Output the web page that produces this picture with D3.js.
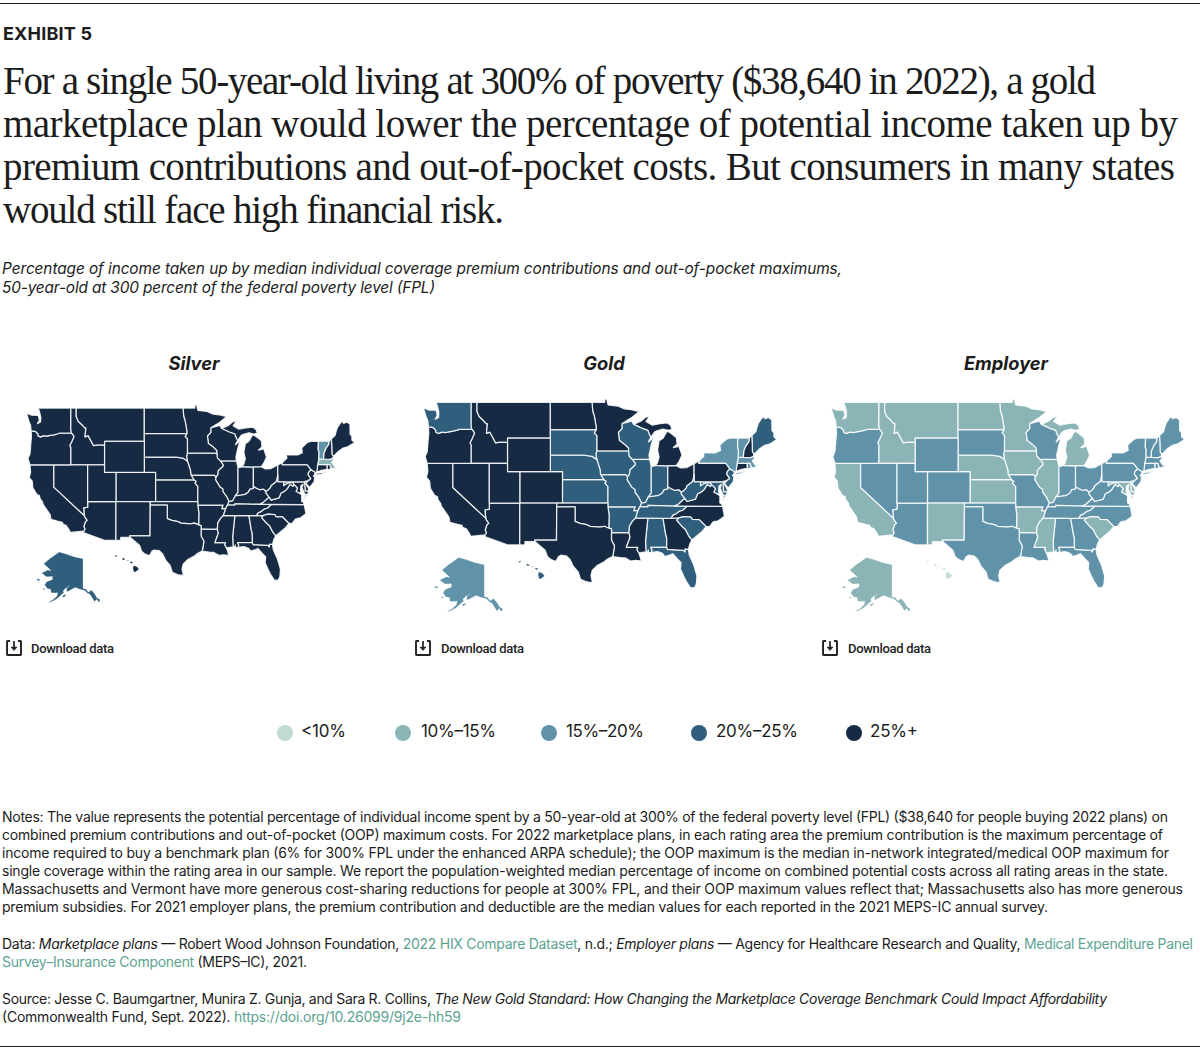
<!DOCTYPE html>
<html><head><meta charset="utf-8">
<style>html,body{margin:0;padding:0;background:#fff}svg{display:block}</style>
<script src="https://cdnjs.cloudflare.com/ajax/libs/d3/7.8.5/d3.min.js"></script>
</head><body><svg id="c" width="1200" height="1050"></svg>
<script>
// ---- Data ----
const binLabels = ["<10%","10%–15%","15%–20%","20%–25%","25%+"];
const binColors = ["#c1dcd3","#8bb4b6","#6093a9","#305f7e","#162b43"];
const panelNames = ["Silver","Gold","Employer"];
const stateCodes = ["AL","AK","AZ","AR","CA","CO","CT","DE","DC","FL","GA","HI","ID","IL","IN","IA","KS","KY","LA","ME","MD","MA","MI","MN","MS","MO","MT","NE","NV","NH","NJ","NM","NY","NC","ND","OH","OK","OR","PA","RI","SC","SD","TN","TX","UT","VT","VA","WA","WV","WI","WY"];
//                 AL AK AZ AR CA CO CT DE DC FL GA HI ID IL IN IA KS KY LA ME MD MA MI MN MS MO MT NE NV NH NJ NM NY NC ND OH OK OR PA RI SC SD TN TX UT VT VA WA WV WI WY
const silverBins = [4, 3, 4, 4, 4, 4, 4, 4, 4, 4, 4, 4, 4, 4, 4, 4, 4, 4, 4, 4, 4, 1, 4, 4, 4, 4, 4, 4, 4, 4, 4, 4, 4, 4, 4, 4, 4, 4, 4, 4, 4, 4, 4, 4, 4, 2, 4, 4, 4, 4, 4];
const goldBins   = [3, 2, 4, 3, 4, 4, 4, 3, 3, 3, 4, 3, 4, 3, 3, 3, 3, 3, 4, 3, 3, 2, 4, 4, 4, 3, 4, 3, 4, 4, 3, 4, 2, 4, 4, 4, 4, 4, 4, 2, 3, 3, 3, 4, 4, 2, 4, 3, 3, 3, 4];
const employerBins=[2, 1, 2, 1, 1, 2, 2, 1, 2, 2, 2, 0, 1, 1, 2, 1, 1, 2, 2, 2, 1, 2, 1, 1, 1, 2, 1, 1, 2, 2, 2, 1, 2, 2, 1, 2, 2, 2, 2, 2, 1, 2, 2, 2, 2, 2, 2, 1, 2, 2, 2];

// State outlines, lon,lat rings
const stateShapes = {
WA:["-122.76,49 -117.03,49 -117.04,46.42 -116.92,46 -118.98,46 -119.3,45.93 -120,45.8 -120.65,45.73 -121.2,45.65 -121.8,45.7 -122.3,45.55 -122.75,45.65 -122.8,45.9 -123.15,46.18 -123.5,46.26 -124,46.26 -124.07,46.7 -124.1,46.95 -124.4,47.45 -124.73,48.18 -124.73,48.38 -123.9,48.16 -123.1,48.15 -122.75,48.13 -122.55,47.6 -122.9,47.15 -122.35,47.35 -122.3,47.9 -122.5,48.5"],
OR:["-124,46.26 -123.5,46.26 -123.15,46.18 -122.8,45.9 -122.75,45.65 -122.3,45.55 -121.8,45.7 -121.2,45.65 -120.65,45.73 -120,45.8 -119.3,45.93 -118.98,46 -116.92,46 -116.7,45.85 -116.47,45.6 -116.53,45.47 -116.85,44.95 -117.2,44.44 -117.03,44.23 -117.03,42 -124.21,42 -124.55,42.84 -124.2,43.4 -124.07,44.6 -123.95,45.5"],
CA:["-124.21,42 -120,42 -120,39 -114.63,35 -114.57,34.8 -114.14,34.3 -114.43,34.1 -114.72,33.4 -114.52,33.03 -114.72,32.72 -117.12,32.53 -117.25,32.85 -117.8,33.55 -118.4,33.75 -118.5,34.03 -119.2,34.15 -120.5,34.45 -120.65,35.15 -121.9,36.6 -122,36.95 -122.5,37.5 -122.5,37.8 -123,38 -123.7,38.9 -123.8,39.8 -124.35,40.3 -124.1,41"],
NV:["-120,42 -114.04,42 -114.04,36.2 -114.75,36.1 -114.63,35 -120,39"],
ID:["-117.03,49 -116.05,49 -116.05,48 -115.7,47.45 -115,47 -114.55,46.65 -114.35,46.65 -114.5,45.55 -113.95,45.7 -113.45,45.05 -113,44.45 -112.3,44.55 -111.5,44.55 -111.05,44.48 -111.05,42 -117.03,42 -117.03,44.23 -117.2,44.44 -116.85,44.95 -116.53,45.47 -116.47,45.6 -116.7,45.85 -116.92,46 -117.04,46.42"],
MT:["-116.05,49 -104.05,49 -104.05,45.94 -104.05,45 -111.05,45 -111.05,44.48 -111.5,44.55 -112.3,44.55 -113,44.45 -113.45,45.05 -113.95,45.7 -114.5,45.55 -114.35,46.65 -114.55,46.65 -115,47 -115.7,47.45 -116.05,48"],
WY:["-111.05,45 -104.05,45 -104.05,43 -104.05,41 -111.05,41"],
UT:["-114.04,42 -111.05,42 -111.05,41 -109.05,41 -109.05,37 -114.04,37"],
CO:["-109.05,41 -104.05,41 -102.05,41 -102.05,40 -102.05,37 -103,37 -109.05,37"],
AZ:["-114.04,37 -109.05,37 -109.05,31.33 -111.07,31.33 -114.81,32.5 -114.72,32.72 -114.52,33.03 -114.72,33.4 -114.43,34.1 -114.14,34.3 -114.57,34.8 -114.63,35 -114.75,36.1 -114.04,36.2"],
NM:["-109.05,37 -103,37 -103,36.5 -103.04,32 -106.62,32 -106.53,31.78 -108.21,31.78 -108.21,31.33 -109.05,31.33"],
ND:["-104.05,49 -97.23,49 -97.1,48 -96.85,47.5 -96.55,46.3 -96.56,45.94 -104.05,45.94"],
SD:["-104.05,45.94 -96.56,45.94 -96.85,45.6 -96.45,45.3 -96.45,43.5 -96.6,43.1 -96.45,42.49 -97.2,42.85 -98.5,43 -104.05,43"],
NE:["-104.05,43 -98.5,43 -97.2,42.85 -96.45,42.49 -96.1,41.7 -95.9,41.2 -95.85,40.7 -95.77,40.58 -95.31,40 -102.05,40 -102.05,41 -104.05,41"],
KS:["-102.05,40 -95.31,40 -94.9,39.8 -95.1,39.55 -94.61,39.11 -94.62,37 -102.05,37"],
OK:["-103,37 -94.62,37 -94.62,36.5 -94.43,35.4 -94.48,33.64 -95.2,33.9 -96,33.8 -96.9,33.85 -97.6,33.9 -98.1,34.13 -99.2,34.3 -100,34.56 -100,36.5 -103,36.5"],
TX:["-103,36.5 -100,36.5 -100,34.56 -99.2,34.3 -98.1,34.13 -97.6,33.9 -96.9,33.85 -96,33.8 -95.2,33.9 -94.48,33.64 -94.04,33.55 -94.04,33.02 -94.04,31.99 -93.55,31.2 -93.7,30.3 -93.85,29.7 -94.7,29.35 -95.3,28.9 -96.4,28.4 -97.2,27.7 -97.4,26.9 -97.15,25.96 -97.7,25.95 -98.3,26.1 -99.1,26.4 -99.5,27.5 -100.3,28.3 -100.8,29.25 -101.4,29.77 -102.3,29.88 -102.7,29.7 -103.15,28.98 -104,29.3 -104.5,29.65 -104.9,30.6 -106.53,31.78 -106.62,32 -103.04,32"],
MN:["-97.23,49 -95.15,49 -95.15,49.38 -94.8,49.3 -94.6,48.72 -93,48.6 -92,48.3 -90.8,48.2 -89.5,48 -90.8,47.3 -92.1,46.75 -92.29,46.66 -92.29,46.1 -92.9,45.65 -92.75,45 -92.75,44.75 -91.9,44.3 -91.25,43.85 -91.22,43.5 -96.45,43.5 -96.45,45.3 -96.85,45.6 -96.56,45.94 -96.55,46.3 -96.85,47.5 -97.1,48"],
IA:["-96.45,43.5 -91.22,43.5 -91.15,42.9 -90.64,42.5 -90.15,42 -90.2,41.8 -91.05,41.2 -91.1,40.7 -91.42,40.38 -91.73,40.61 -95.77,40.58 -95.85,40.7 -95.9,41.2 -96.1,41.7 -96.45,42.49 -96.6,43.1"],
MO:["-95.77,40.58 -91.73,40.61 -91.42,40.38 -91.5,40 -90.7,39 -90.2,38.75 -90.2,38.4 -89.55,37.7 -89.13,37 -89.4,36.5 -89.7,36 -90.37,36 -90.15,36.5 -94.62,36.5 -94.62,37 -94.61,39.11 -95.1,39.55 -94.9,39.8 -95.31,40"],
AR:["-94.62,36.5 -90.15,36.5 -90.37,36 -89.7,36 -90.1,35 -90.6,34.6 -91.1,33.9 -91.17,33 -94.04,33.02 -94.04,33.55 -94.48,33.64 -94.43,35.4"],
LA:["-94.04,33.02 -91.17,33 -91,32.4 -91.6,31 -89.73,31 -89.85,30.65 -89.55,30.2 -89.4,29.8 -89.15,29.05 -90.1,29.15 -90.9,29.05 -91.8,29.5 -92.6,29.55 -93.85,29.7 -93.7,30.3 -93.55,31.2 -94.04,31.99"],
MS:["-90.1,35 -88.2,35 -88.1,34.9 -88.47,31.9 -88.4,30.35 -89.55,30.2 -89.85,30.65 -89.73,31 -91.6,31 -91,32.4 -91.17,33 -91.1,33.9 -90.6,34.6"],
TN:["-89.7,36 -89.4,36.5 -88.07,36.5 -88.07,36.68 -83.68,36.6 -81.68,36.59 -82.4,36.05 -82.9,35.95 -83.5,35.57 -84,35.4 -84.32,34.99 -85.6,34.98 -88.2,35 -90.1,35"],
KY:["-89.4,36.5 -88.07,36.5 -88.07,36.68 -83.68,36.6 -83.1,36.85 -82.2,37.5 -81.97,37.54 -82.6,38.17 -82.6,38.4 -83,38.72 -83.7,38.65 -84.23,38.85 -84.82,39.1 -84.82,38.8 -85.4,38.73 -85.75,38.27 -86.3,38 -87,37.9 -88,37.8 -88.45,37.1 -89.13,37"],
OH:["-84.82,41.7 -83.45,41.73 -82.7,41.45 -81.7,41.5 -80.52,41.98 -80.52,40.64 -80.65,40 -80.85,39.7 -81.7,39.2 -81.75,39 -82.2,38.6 -82.6,38.4 -83,38.72 -83.7,38.65 -84.23,38.85 -84.82,39.1"],
IN:["-87.53,41.7 -87.2,41.65 -86.8,41.76 -84.82,41.7 -84.82,39.1 -84.82,38.8 -85.4,38.73 -85.75,38.27 -86.3,38 -87,37.9 -88,37.8 -87.53,38.3 -87.53,39.35"],
IL:["-90.64,42.5 -87.8,42.5 -87.6,41.9 -87.53,41.7 -87.53,39.35 -87.53,38.3 -88,37.8 -88.45,37.1 -89.13,37 -89.55,37.7 -90.2,38.4 -90.2,38.75 -90.7,39 -91.5,40 -91.42,40.38 -91.1,40.7 -91.05,41.2 -90.2,41.8 -90.15,42"],
WI:["-92.29,46.66 -91.2,46.85 -90.75,46.95 -90.42,46.57 -89.1,46.15 -88.1,45.9 -87.8,45.35 -87.6,45.1 -88,44.55 -87.4,44.9 -87.05,45.25 -87.5,44.3 -87.9,43 -87.8,42.5 -90.64,42.5 -91.15,42.9 -91.22,43.5 -91.25,43.85 -91.9,44.3 -92.75,44.75 -92.75,45 -92.9,45.65 -92.29,46.1"],
MI:["-86.8,41.76 -86.5,42.1 -86.25,42.8 -86.5,43.6 -86.25,44.7 -85.6,45 -85,45.75 -84.75,45.78 -84,45.4 -83.4,45.05 -83.3,44.3 -83.9,43.9 -83,44.05 -82.5,43 -82.9,42.35 -83.15,42.05 -83.45,41.73 -84.82,41.7",
    "-90.42,46.57 -89.2,46.95 -88.4,47.4 -87.8,47.45 -88.4,46.9 -87.4,46.5 -86.1,46.65 -85,46.75 -84.4,46.5 -84.1,46 -84.75,45.9 -85.6,46.05 -86.6,45.85 -87,45.7 -87.6,45.1 -87.8,45.35 -88.1,45.9 -89.1,46.15"],
AL:["-88.2,35 -85.6,34.98 -85.18,32.87 -85,32.3 -85,31 -87.6,31 -87.4,30.65 -87.52,30.28 -88,30.25 -88,30.65 -88.1,30.35 -88.4,30.35 -88.47,31.9 -88.1,34.9"],
GA:["-85.6,34.98 -84.32,34.99 -83.1,35 -83.35,34.7 -82.55,33.95 -81.95,33.5 -81.4,32.6 -80.87,32.03 -81.2,31.5 -81.45,30.72 -81.98,30.78 -82.05,30.36 -82.2,30.57 -84.86,30.7 -85,31 -85,32.3 -85.18,32.87"],
FL:["-87.6,31 -85,31 -84.86,30.7 -82.2,30.57 -82.05,30.36 -81.98,30.78 -81.45,30.72 -81.3,29.9 -80.55,28.45 -80.05,26.9 -80.15,25.75 -80.4,25.2 -81.1,25.13 -81.8,26.1 -82.2,26.8 -82.75,27.9 -82.65,28.8 -83.4,29.5 -84,30.1 -84.4,29.95 -85.3,29.7 -85.7,30.15 -86.5,30.4 -87.52,30.28 -87.4,30.65"],
SC:["-83.1,35 -82.3,35.2 -81.05,35.15 -80.8,34.82 -79.67,34.8 -78.55,33.85 -79.2,33.2 -79.9,32.7 -80.87,32.03 -81.4,32.6 -81.95,33.5 -82.55,33.95 -83.35,34.7"],
NC:["-84.32,34.99 -83.1,35 -82.3,35.2 -81.05,35.15 -80.8,34.82 -79.67,34.8 -78.55,33.85 -77.95,33.9 -77.4,34.5 -76.55,34.65 -75.55,35.25 -75.85,36.55 -81.68,36.59 -82.4,36.05 -82.9,35.95 -83.5,35.57 -84,35.4"],
VA:["-75.85,36.55 -81.68,36.59 -83.68,36.6 -83.1,36.85 -82.2,37.5 -81.97,37.54 -81.68,37.2 -81.25,37.3 -80.3,37.5 -79.95,38.2 -79.3,38.45 -78.87,38.76 -78.35,39.4 -77.83,39.13 -77.72,39.32 -77.45,39.22 -77.05,38.85 -77.3,38.4 -76.95,38.27 -76.3,37.95 -76.3,37.5 -76.3,37 -76,36.9",
    "-75.95,37.15 -75.6,37.55 -75.25,38.03 -75.65,37.95"],
WV:["-81.97,37.54 -82.6,38.17 -82.6,38.4 -82.2,38.6 -81.75,39 -81.7,39.2 -80.85,39.7 -80.65,40 -80.52,40.64 -80.52,39.72 -79.48,39.72 -79.48,39.2 -79,39.45 -78.4,39.62 -77.83,39.6 -77.72,39.32 -77.83,39.13 -78.35,39.4 -78.87,38.76 -79.3,38.45 -79.95,38.2 -80.3,37.5 -81.25,37.3 -81.68,37.2"],
MD:["-79.48,39.72 -75.79,39.72 -75.7,38.46 -75.05,38.45 -75.25,38.03 -75.65,37.95 -75.9,38.3 -76.25,38.9 -76.05,39.4 -76.45,39.2 -76.5,38.5 -76.35,38.1 -76.95,38.27 -77.3,38.4 -77.05,38.85 -77.45,39.22 -77.72,39.32 -77.83,39.6 -78.4,39.62 -79,39.45 -79.48,39.2"],
DE:["-75.79,39.72 -75.6,39.83 -75.4,39.8 -75.55,39.45 -75.1,38.8 -75.05,38.45 -75.7,38.46"],
DC:["-77.12,38.93 -77.04,39 -76.91,38.89 -77.04,38.79"],
PA:["-80.52,41.98 -79.76,42.27 -79.76,42 -75.35,42 -74.7,41.36 -75.13,40.97 -75.2,40.68 -74.72,40.15 -75.4,39.8 -75.6,39.83 -75.79,39.72 -79.48,39.72 -80.52,39.72 -80.52,40.64"],
NJ:["-74.7,41.36 -73.9,41 -74.05,40.65 -74.25,40.5 -74,40.4 -74.1,39.75 -74.9,38.95 -75.55,39.5 -75.15,39.88 -74.72,40.15 -75.2,40.68 -75.13,40.97"],
NY:["-79.76,42.27 -79.76,42 -75.35,42 -74.7,41.36 -73.9,41 -73.65,41 -73.48,42.05 -73.27,42.75 -73.25,43.6 -73.4,44 -73.35,45.01 -74.7,45 -75.3,44.85 -76.3,44.2 -76.2,43.55 -77,43.28 -79.05,43.27 -78.9,42.88",
    "-74,40.6 -73.7,40.85 -72.6,40.98 -72,41.05 -72.9,40.72"],
VT:["-73.35,45.01 -71.5,45.01 -71.55,44.6 -72.05,44.1 -72.4,43.5 -72.46,42.73 -73.27,42.75 -73.25,43.6 -73.4,44"],
NH:["-71.5,45.01 -71.08,45.3 -71,44.3 -70.98,43.4 -70.72,43.07 -70.82,42.87 -71.3,42.7 -72.46,42.73 -72.4,43.5 -72.05,44.1 -71.55,44.6"],
ME:["-71.08,45.3 -70.4,45.75 -70.25,46.2 -70,46.7 -69.23,47.46 -68.9,47.2 -68.3,47.35 -67.79,47.07 -67.78,45.9 -67.45,45.6 -67.45,45.15 -66.97,44.83 -68.2,44.3 -69,44.15 -69.8,43.75 -70.72,43.07 -70.98,43.4 -71,44.3"],
MA:["-73.27,42.75 -72.46,42.73 -71.3,42.7 -70.82,42.87 -70.6,42.65 -71,42.3 -70.65,41.95 -70.5,41.78 -70,41.8 -70.2,42.07 -69.95,41.7 -70.65,41.52 -71.12,41.5 -71.38,42.02 -71.8,42.02 -73.48,42.05"],
CT:["-73.48,42.05 -71.8,42.02 -71.8,41.4 -72.9,41.25 -73.65,41"],
RI:["-71.8,42.02 -71.38,42.02 -71.12,41.5 -71.5,41.37 -71.8,41.4"],
AK:["-141,69.65 -141,60.3 -139.1,60.1 -137.5,58.9 -135.5,59.7 -133.5,58.4 -131.8,56.6 -130,56 -130,55 -131,55 -132,56 -133.5,55 -134.5,56.2 -136.5,58.1 -137.9,58.4 -139.8,59.55 -143,60 -146,60.7 -148.3,60 -150.5,59.3 -151.8,59.2 -151.5,60.7 -149.8,61.3 -152.5,60.3 -154,59.4 -153.5,58.8 -156,57.4 -158.5,56.1 -161,55.2 -163.5,54.7 -163,55.1 -160.5,55.9 -158,57.4 -157.5,58.7 -159,58.6 -162,58.7 -162,59.9 -164.5,60.3 -165.4,61.1 -166.1,61.6 -164.8,62.7 -161,63.5 -161,64.5 -165,64.4 -168.1,65.6 -164,66.5 -161.9,66.3 -163.7,67.1 -166.7,68.3 -163,69.6 -160,70.4 -156.6,71.35 -152,70.85 -147,70.2",
    "-154.6,57.4 -152.4,58.1 -152.3,57.5 -153.8,56.8","-167.2,60.2 -165.7,60.3 -165.7,59.9 -166.9,59.8","-171.7,63.6 -170,63.7 -168.8,63.3 -170.2,63.1"],
HI:["-155.9,20.25 -155.2,19.98 -154.8,19.5 -155.65,18.92 -155.9,19.1 -156.05,19.75",
    "-156.7,20.95 -156.25,20.95 -156,20.75 -156.4,20.58","-157.3,21.22 -156.72,21.17 -157.25,21.08","-158.27,21.57 -157.97,21.72 -157.65,21.3 -158.1,21.3","-159.78,22.05 -159.4,22.24 -159.3,22 -159.6,21.88"]
};

const titleLines = [
 "For a single 50-year-old living at 300% of poverty ($38,640 in 2022), a gold",
 "marketplace plan would lower the percentage of potential income taken up by",
 "premium contributions and out-of-pocket costs. But consumers in many states",
 "would still face high financial risk."];
const titleEnds = [1096,1178,1175,504];
const subtitleLines = ["Percentage of income taken up by median individual coverage premium contributions and out-of-pocket maximums,",
 "50-year-old at 300 percent of the federal poverty level (FPL)"];
const subtitleEnds = [842,435];
const linkColor = "#5ca392";
// runs: plain | {i:text} italic | {a:text} link
const noteBlocks = [
 {y:822, lines:[
  [["Notes: The value represents the potential percentage of individual income spent by a 50-year-old at 300% of the federal poverty level (FPL) ($38,640 for people buying 2022 plans) on"],1168],
  [["combined premium contributions and out-of-pocket (OOP) maximum costs. For 2022 marketplace plans, in each rating area the premium contribution is the maximum percentage of"],1163],
  [["income required to buy a benchmark plan (6% for 300% FPL under the enhanced ARPA schedule); the OOP maximum is the median in-network integrated/medical OOP maximum for"],1169],
  [["single coverage within the rating area in our sample. We report the population-weighted median percentage of income on combined potential costs across all rating areas in the state."],1168],
  [["Massachusetts and Vermont have more generous cost-sharing reductions for people at 300% FPL, and their OOP maximum values reflect that; Massachusetts also has more generous"],1183],
  [["premium subsidies. For 2021 employer plans, the premium contribution and deductible are the median values for each reported in the 2021 MEPS-IC annual survey."],1048]]},
 {y:949, lines:[
  [["Data: ",{i:"Marketplace plans"}," — Robert Wood Johnson Foundation, ",{a:"2022 HIX Compare Dataset"},", n.d.; ",{i:"Employer plans"}," — Agency for Healthcare Research and Quality, ",{a:"Medical Expenditure Panel"}],1193],
  [[{a:"Survey–Insurance Component"}," (MEPS–IC), 2021."],307]]},
 {y:1004, lines:[
  [["Source: Jesse C. Baumgartner, Munira Z. Gunja, and Sara R. Collins, ",{i:"The New Gold Standard: How Changing the Marketplace Coverage Benchmark Could Impact Affordability"}],1107],
  [["(Commonwealth Fund, Sept. 2022). ",{a:"https://doi.org/10.26099/9j2e-hh59"}],461]]}
];

// ---- Drawing ----
const svg = d3.select("#c");
const SANS = "Inter, 'Liberation Sans', sans-serif", SERIF = "'Liberation Serif', serif", INK="#1c1c1c";
const fitText = (sel,x,end)=>sel.attr("x",x).attr("textLength",end-x).attr("lengthAdjust","spacing");

svg.append("line").attr("x1",0).attr("x2",1200).attr("y1",3.5).attr("y2",3.5).attr("stroke","#222");
svg.append("line").attr("x1",0).attr("x2",1200).attr("y1",1046.5).attr("y2",1046.5).attr("stroke","#222");
fitText(svg.append("text").attr("y",39.5).attr("font-family",SANS).attr("font-weight",700).attr("font-size",18).attr("fill",INK).text("EXHIBIT 5"),3,92);

titleLines.forEach((t,i)=>fitText(svg.append("text").attr("y",94+43*i).attr("font-family",SERIF).attr("font-size",39).attr("fill",INK).text(t),3,titleEnds[i]));
subtitleLines.forEach((t,i)=>fitText(svg.append("text").attr("y",274+19*i).attr("font-family",SANS).attr("font-style","italic").attr("font-size",15.4).attr("fill",INK).text(t),2,subtitleEnds[i]));

const panels = [
 {name:panelNames[0],bins:silverBins,left:27,top:408,s:1,cx:194,dlIcon:6,dlText:31},
 {name:panelNames[1],bins:goldBins,left:424,top:402.3,s:1.077,cx:604,dlIcon:415,dlText:441},
 {name:panelNames[2],bins:employerBins,left:831.7,top:402.3,s:1.077,cx:1006,dlIcon:822,dlText:848}
];
const colorScale = d3.scaleOrdinal().domain(d3.range(binLabels.length)).range(binColors);

function anchored(k,anchor,x,y,yf){
  const pr = d3.geoMercator().scale(k).translate([0,0]);
  const a = pr(anchor);
  return ([lon,lat])=>{const p=pr([lon,lat]);return [x+p[0]-a[0], y+(p[1]-a[1])*yf];};
}
const pathFor = fn => d3.geoPath(d3.geoTransform({point(x,y){const p=fn([x,y]);this.stream.point(p[0],p[1]);}}));
const parseRing = r => { const c=r.trim().split(/\s+/).map(s=>s.split(",").map(Number)); c.push(c[0]); return c; };

const features = stateCodes.map((code,i)=>({type:"Feature",id:code,index:i,geometry:{type:"MultiPolygon",coordinates:stateShapes[code].map(r=>[parseRing(r)])}}));

panels.forEach(p=>{
  const main = pathFor(anchored(325*p.s,[-124.73,49],p.left,p.top,1));
  const ak = pathFor(anchored(87.6*p.s,[-141,71.35],p.left+56*p.s,p.top+144*p.s,0.87));
  const hi = pathFor(anchored(280*p.s,[-154.8,22.24],p.left+112*p.s,p.top+147*p.s,1));
  const g = svg.append("g").attr("class","map");
  g.selectAll("path").data(features).join("path")
    .attr("d",d=>d.id==="AK"?ak(d):d.id==="HI"?hi(d):main(d))
    .attr("fill",d=>colorScale(p.bins[d.index]))
    .attr("stroke","#fff").attr("stroke-opacity",0.85).attr("stroke-width",d=>d.id==="HI"||d.id==="AK"?0.3:1.25).attr("stroke-linejoin","round");
  svg.append("text").attr("x",p.cx).attr("y",370).attr("text-anchor","middle").attr("font-family",SANS)
    .attr("font-style","italic").attr("font-weight",700).attr("font-size",18.3).attr("fill",INK).text(p.name);
  // download button
  const ic = svg.append("g").attr("transform",`translate(${p.dlIcon},640)`).attr("fill","none").attr("stroke","#222").attr("stroke-width",1.9);
  ic.append("path").attr("d","M4 1H1.5Q1 1 1 1.5V14.5Q1 15 1.5 15H14.5Q15 15 15 14.5V1.5Q15 1 14.5 1H12");
  ic.append("path").attr("d","M8 1V8").attr("stroke-width",1.7);
  ic.append("path").attr("d","M5 7L8 10.5L11 7Z").attr("fill","#222").attr("stroke-width",.6);
  fitText(svg.append("text").attr("y",653).attr("font-family","Roboto, sans-serif").attr("font-weight",500).attr("font-size",13).attr("fill","#222").text("Download data"),p.dlText,p.dlText+83);
});

const legendCx=[285,403,549,699,854], legendTx=[301,421,566,716,870], legendEnd=[346,496,644,798,918];
binLabels.forEach((l,i)=>{
  svg.append("circle").attr("cx",legendCx[i]).attr("cy",733).attr("r",8).attr("fill",binColors[i]);
  fitText(svg.append("text").attr("y",737).attr("font-family",SANS).attr("font-size",17).attr("fill",INK).text(l),legendTx[i],legendEnd[i]);
});

noteBlocks.forEach(b=>b.lines.forEach(([runs,end],i)=>{
  const t = fitText(svg.append("text").attr("y",b.y+18*i).attr("font-family",SANS).attr("font-size",14).attr("fill",INK),2,end);
  runs.forEach(r=>{
    const ts=t.append("tspan");
    if(typeof r==="string") ts.text(r);
    else if(r.i) ts.attr("font-style","italic").text(r.i);
    else ts.attr("fill",linkColor).text(r.a);
  });
}));
</script></body></html>
